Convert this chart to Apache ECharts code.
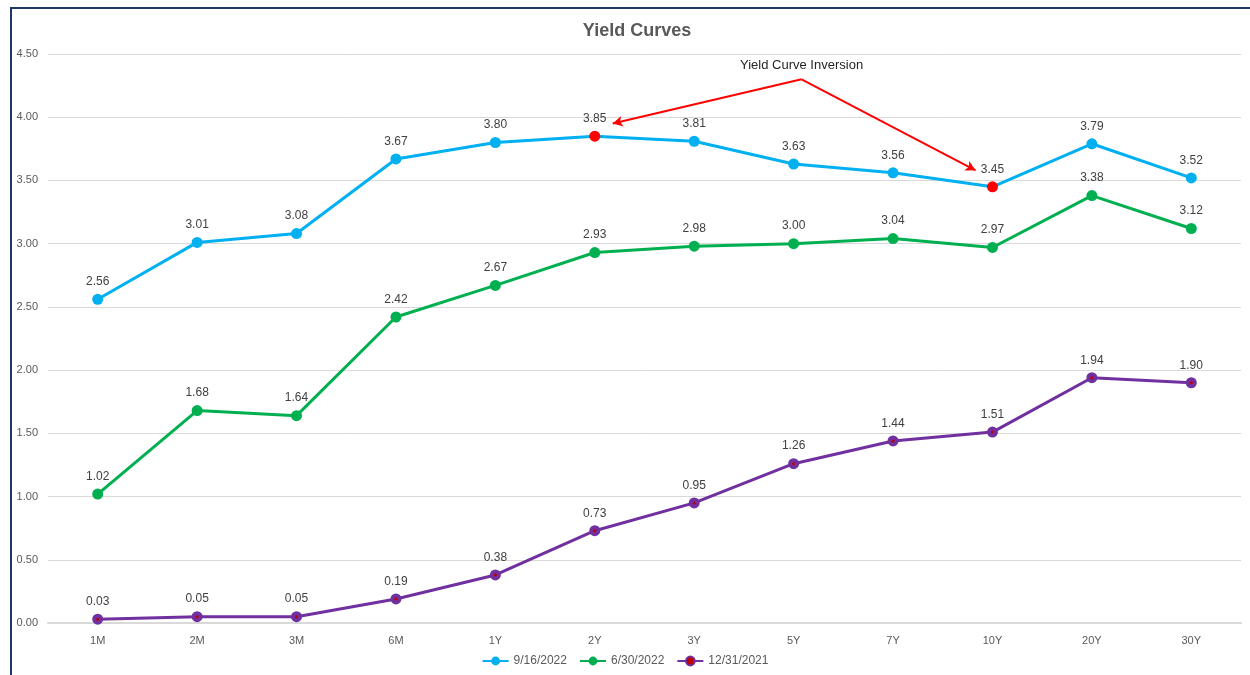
<!DOCTYPE html>
<html>
<head>
<meta charset="utf-8">
<script src="https://cdn.jsdelivr.net/npm/echarts@6/dist/echarts.min.js"></script>
<style>
  html, body { margin: 0; padding: 0; background: #fff; }
  #chart { position: absolute; left: 0; top: 0; width: 1250px; height: 675px; }
  #frame {
    position: absolute; left: 10px; top: 7px; width: 1260px; height: 700px;
    border-left: 2px solid #1f3864; border-top: 2px solid #1f3864;
    pointer-events: none;
  }
</style>
</head>
<body>
<div id="chart"></div>
<div id="frame"></div>
<script>
const tenors = ['1M', '2M', '3M', '6M', '1Y', '2Y', '3Y', '5Y', '7Y', '10Y', '20Y', '30Y']
const sep2022 = [2.56, 3.01, 3.08, 3.67, 3.80, 3.85, 3.81, 3.63, 3.56, 3.45, 3.79, 3.52]
const jun2022 = [1.02, 1.68, 1.64, 2.42, 2.67, 2.93, 2.98, 3.00, 3.04, 2.97, 3.38, 3.12]
const dec2021 = [0.03, 0.05, 0.05, 0.19, 0.38, 0.73, 0.95, 1.26, 1.44, 1.51, 1.94, 1.90]
const inverted = ['2Y', '10Y']

// annotation, in data units (x = category index)
const noteText = 'Yield Curve Inversion'
const noteFrom = [7.08, 4.30]
const noteTextAt = [7.08, 4.41]
const noteArrows = [[5.18, 3.95], [8.83, 3.58]]

const font = 'Liberation Sans, Arial, sans-serif'

function labelStyle() {
  return {
    show: true,
    position: 'top',
    distance: 6,
    color: '#404040',
    fontSize: 12,
    fontFamily: font,
    formatter: (p) => p.value.toFixed(2)
  }
}

const chart = echarts.init(document.getElementById('chart'))

chart.setOption({
  animation: false,
  title: {
    text: 'Yield Curves',
    left: 632,
    top: 17,
    textAlign: 'center',
    textStyle: { color: '#595959', fontSize: 18, fontWeight: 'bold', fontFamily: font }
  },
  grid: { left: 48, right: 9, top: 54, bottom: 52 },
  legend: {
    bottom: 3,
    left: 'center',
    itemWidth: 26,
    itemHeight: 11,
    itemGap: 12,
    textStyle: { color: '#595959', fontSize: 12, fontFamily: font },
    data: ['9/16/2022', '6/30/2022', '12/31/2021']
  },
  xAxis: [
    {
      type: 'category',
      data: tenors,
      axisTick: { show: false },
      axisLine: { lineStyle: { color: '#d9d9d9', width: 2 } },
      axisLabel: { color: '#595959', fontSize: 11, fontFamily: font, margin: 12 }
    },
    { type: 'value', min: -0.5, max: 11.5, show: false }
  ],
  yAxis: {
    type: 'value',
    min: 0,
    max: 4.5,
    interval: 0.5,
    axisLine: { show: false },
    axisTick: { show: false },
    axisLabel: {
      color: '#595959', fontSize: 11, fontFamily: font, margin: 10,
      formatter: (v) => v.toFixed(2)
    },
    splitLine: { lineStyle: { color: '#d9d9d9' } }
  },
  series: [
    {
      name: '9/16/2022',
      type: 'line',
      data: sep2022.map((v, i) =>
        inverted.includes(tenors[i]) ? { value: v, itemStyle: { color: '#ff0000' } } : v),
      symbol: 'circle',
      symbolSize: 11,
      color: '#00b0f0',
      lineStyle: { width: 3 },
      label: labelStyle()
    },
    {
      name: '6/30/2022',
      type: 'line',
      data: jun2022,
      symbol: 'circle',
      symbolSize: 11,
      color: '#00b050',
      lineStyle: { width: 3 },
      label: labelStyle()
    },
    {
      name: '12/31/2021',
      type: 'line',
      data: dec2021,
      symbol: 'circle',
      symbolSize: 7,
      color: '#7030a0',
      itemStyle: { color: '#c00000', borderColor: '#7030a0', borderWidth: 4 },
      lineStyle: { width: 3, color: '#7030a0' },
      label: labelStyle()
    },
    {
      name: 'note',
      type: 'line',
      xAxisIndex: 1,
      data: [],
      silent: true,
      markLine: {
        silent: true,
        symbol: ['none', 'arrow'],
        symbolSize: [8, 10],
        label: { show: false },
        lineStyle: { color: '#ff0000', width: 2, type: 'solid' },
        data: noteArrows.map((to) => [{ coord: noteFrom }, { coord: to }])
      }
    }
  ]
})

const at = chart.convertToPixel({ xAxisIndex: 1, yAxisIndex: 0 }, noteTextAt)
chart.setOption({
  graphic: [{
    type: 'text',
    x: at[0],
    y: at[1],
    silent: true,
    style: {
      text: noteText,
      fill: '#262626',
      fontSize: 13,
      fontFamily: font,
      align: 'center',
      verticalAlign: 'middle'
    }
  }]
})
</script>
</body>
</html>
